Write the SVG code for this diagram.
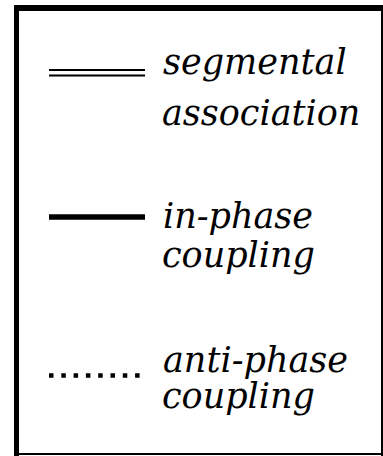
<svg xmlns="http://www.w3.org/2000/svg" width="383" height="456" viewBox="0 0 383 456">
<style>
.t{font-family:"DejaVu Serif","Liberation Serif",serif;font-style:italic;font-size:35px;fill:#000}
</style>
<rect x="0" y="0" width="383" height="456" fill="#fff"/>
<g id="frame" fill="#000">
<rect x="14" y="5" width="369" height="6"/>
<rect x="14" y="5" width="5" height="451"/>
<rect x="381" y="5" width="2" height="451"/>
<rect x="14" y="453" width="369" height="2"/>
</g>
<g id="connectors" stroke="#000" fill="none">
<g id="seg-line" stroke-width="2.2">
<line x1="49" y1="70" x2="145" y2="70"/>
<line x1="49" y1="75.5" x2="145" y2="75.5"/>
</g>
<line id="inphase-line" x1="49" y1="217" x2="145" y2="217" stroke-width="5.5"/>
<line id="antiphase-line" x1="49" y1="375.5" x2="141" y2="375.5" stroke-width="4.5" stroke-dasharray="4.5 7.8"/>
</g>
<g id="label-segmental">
<text class="t" x="163" y="74">segmental</text>
<text class="t" x="162" y="125">association</text>
</g>
<g id="label-inphase">
<text class="t" x="163" y="228">in-phase</text>
<text class="t" x="162" y="267">coupling</text>
</g>
<g id="label-antiphase">
<text class="t" x="163" y="372">anti-phase</text>
<text class="t" x="162" y="408">coupling</text>
</g>
</svg>
